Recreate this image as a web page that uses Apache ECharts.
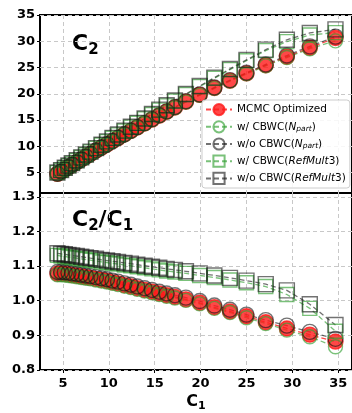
<!DOCTYPE html>
<html>
<head>
<meta charset="utf-8">
<script src="https://cdn.jsdelivr.net/npm/echarts@6/dist/echarts.min.js"></script>
<style>
  html, body { margin: 0; padding: 0; background: #fff; }
  #chart { width: 352px; height: 413px; }
</style>
</head>
<body>
<div id="chart"></div>
<script>
// C1 (mean) per centrality bin
const c1 = [4.4, 4.8, 5.2, 5.6, 6.0, 6.5, 7.0, 7.5, 8.0, 8.6, 9.2, 9.8, 10.4, 11.0, 11.7, 12.4,
  13.1, 13.9, 14.7, 15.5, 16.3, 17.2, 18.4, 19.9, 21.5, 23.2, 25.0, 27.1, 29.4, 31.9, 34.7]

// C2 (top panel)
const c2Mcmc = [4.74, 5.17, 5.60, 6.03, 6.44, 6.97, 7.49, 8.01, 8.53, 9.14, 9.75, 10.36, 10.95, 11.55, 12.23, 12.91,
  13.57, 14.33, 15.08, 15.83, 16.56, 17.39, 18.47, 19.78, 21.09, 22.48, 23.88, 25.42, 27.05, 28.77, 30.61]
const c2NpartCbwc = [4.73, 5.16, 5.58, 6.01, 6.43, 6.95, 7.47, 7.99, 8.50, 9.12, 9.72, 10.33, 10.92, 11.52, 12.19, 12.87,
  13.53, 14.29, 15.04, 15.78, 16.51, 17.34, 18.42, 19.72, 21.03, 22.41, 23.78, 25.31, 26.90, 28.58, 30.08]
const c2NpartRaw = [4.77, 5.20, 5.63, 6.05, 6.47, 7.00, 7.53, 8.05, 8.57, 9.18, 9.80, 10.41, 11.00, 11.61, 12.29, 12.97,
  13.64, 14.40, 15.16, 15.90, 16.64, 17.48, 18.57, 19.88, 21.20, 22.60, 24.00, 25.58, 27.28, 29.03, 30.88]
const c2RefCbwc = [4.98, 5.42, 5.87, 6.31, 6.75, 7.30, 7.85, 8.39, 8.94, 9.59, 10.23, 10.88, 11.52, 12.17, 12.91, 13.65,
  14.38, 15.22, 16.05, 16.88, 17.70, 18.63, 19.85, 21.35, 22.94, 24.59, 26.30, 28.21, 29.93, 31.20, 31.65]
const c2RefRaw = [5.00, 5.45, 5.90, 6.34, 6.79, 7.34, 7.89, 8.44, 8.98, 9.64, 10.29, 10.94, 11.59, 12.23, 12.98, 13.73,
  14.46, 15.30, 16.14, 16.97, 17.80, 18.73, 19.96, 21.47, 23.07, 24.73, 26.45, 28.40, 30.28, 31.58, 32.27]

// C2/C1 (bottom panel)
const rMcmc = [1.078, 1.078, 1.077, 1.076, 1.074, 1.072, 1.070, 1.068, 1.066, 1.063, 1.060, 1.057, 1.053, 1.050, 1.045, 1.041,
  1.036, 1.031, 1.026, 1.021, 1.016, 1.011, 1.004, 0.994, 0.981, 0.969, 0.955, 0.938, 0.920, 0.902, 0.882]
const rNpartCbwc = [1.075, 1.075, 1.074, 1.073, 1.071, 1.069, 1.067, 1.065, 1.063, 1.060, 1.057, 1.054, 1.050, 1.047, 1.042, 1.038,
  1.033, 1.028, 1.023, 1.018, 1.013, 1.008, 1.001, 0.991, 0.978, 0.966, 0.951, 0.934, 0.915, 0.896, 0.867]
const rNpartRaw = [1.083, 1.083, 1.082, 1.081, 1.079, 1.077, 1.075, 1.073, 1.071, 1.068, 1.065, 1.062, 1.058, 1.055, 1.050, 1.046,
  1.041, 1.036, 1.031, 1.026, 1.021, 1.016, 1.009, 0.999, 0.986, 0.974, 0.960, 0.944, 0.928, 0.910, 0.890]
const rRefCbwc = [1.131, 1.129, 1.128, 1.126, 1.125, 1.123, 1.121, 1.119, 1.117, 1.115, 1.112, 1.110, 1.108, 1.106, 1.103, 1.101,
  1.098, 1.095, 1.092, 1.089, 1.086, 1.083, 1.079, 1.073, 1.067, 1.060, 1.052, 1.041, 1.018, 0.978, 0.912]
const rRefRaw = [1.137, 1.135, 1.134, 1.132, 1.131, 1.129, 1.127, 1.125, 1.123, 1.121, 1.118, 1.116, 1.114, 1.112, 1.109, 1.107,
  1.104, 1.101, 1.098, 1.095, 1.092, 1.089, 1.085, 1.079, 1.073, 1.066, 1.058, 1.048, 1.030, 0.990, 0.930]

// tick labels
const c1Ticks = [5, 10, 15, 20, 25, 30, 35]
const c2Ticks = [5, 10, 15, 20, 25, 30, 35]
const ratioTicks = [0.8, 0.9, 1.0, 1.1, 1.2, 1.3]

const FONT = 'DejaVu Sans'
const RED = 'rgba(255,25,25,0.8)'
const GREEN = 'rgba(50,160,50,0.65)'
const BLACK = 'rgba(20,20,20,0.6)'

const names = ['MCMC Optimized', 'w/ CBWC(Npart)', 'w/o CBWC(Npart)', 'w/ CBWC(RefMult3)', 'w/o CBWC(RefMult3)']
const legendText = {
  'MCMC Optimized': 'MCMC Optimized',
  'w/ CBWC(Npart)': 'w/ CBWC({it|N}{sub|part})',
  'w/o CBWC(Npart)': 'w/o CBWC({it|N}{sub|part})',
  'w/ CBWC(RefMult3)': 'w/ CBWC({it|RefMult}3)',
  'w/o CBWC(RefMult3)': 'w/o CBWC({it|RefMult}3)'
}

const styles = [
  { symbol: 'circle', size: 15, fill: RED, stroke: RED, line: RED },
  { symbol: 'circle', size: 14, fill: 'rgba(0,0,0,0)', stroke: GREEN, line: GREEN },
  { symbol: 'circle', size: 15, fill: 'rgba(0,0,0,0)', stroke: BLACK, line: BLACK },
  { symbol: 'rect', size: 14, fill: 'rgba(0,0,0,0)', stroke: GREEN, line: GREEN },
  { symbol: 'rect', size: 15, fill: 'rgba(0,0,0,0)', stroke: BLACK, line: BLACK }
]
const topData = [c2Mcmc, c2NpartCbwc, c2NpartRaw, c2RefCbwc, c2RefRaw]
const botData = [rMcmc, rNpartCbwc, rNpartRaw, rRefCbwc, rRefRaw]

function pairs(ys) {
  return c1.map((x, i) => [x, ys[i]])
}

function mkSeries(i, panel) {
  const s = styles[i]
  return {
    name: names[i],
    type: 'line',
    xAxisIndex: panel,
    yAxisIndex: panel,
    data: pairs(panel === 0 ? topData[i] : botData[i]),
    symbol: s.symbol,
    symbolSize: s.size,
    showAllSymbol: true,
    animation: false,
    lineStyle: { color: s.line, width: 1.3, type: [5, 3] },
    itemStyle: { color: s.fill, borderColor: s.stroke, borderWidth: 1.4 },
    emphasis: { disabled: true }
  }
}

const series = []
for (let i = 0; i < 5; i++) {
  series.push(mkSeries(i, 0))
  series.push(mkSeries(i, 1))
}

const splitLine = { show: true, lineStyle: { color: '#c8c8c8', type: [4, 3], width: 1 } }
const tickLabel = { fontFamily: FONT, fontWeight: 'bold', fontSize: 13, color: '#000' }

function xAxis(idx, showLabels) {
  return {
    type: 'value',
    gridIndex: idx,
    min: 2.5,
    max: 36.5,
    axisLine: { show: false },
    axisTick: { show: showLabels, length: 3, customValues: c1Ticks, lineStyle: { color: '#000' } },
    axisLabel: Object.assign({ show: showLabels, margin: 7, customValues: c1Ticks }, tickLabel),
    splitLine: splitLine,
    name: showLabels ? '{b|C}{s|1}' : '',
    nameLocation: 'middle',
    nameGap: 22,
    nameTextStyle: {
      rich: {
        b: { fontFamily: FONT, fontWeight: 'bold', fontSize: 16, color: '#000' },
        s: { fontFamily: FONT, fontWeight: 'bold', fontSize: 11, color: '#000', padding: [9, 0, 0, 0] }
      }
    }
  }
}

const chart = echarts.init(document.getElementById('chart'))
chart.setOption({
  animation: false,
  grid: [
    { left: 40, top: 15, width: 317, height: 178, show: true, borderColor: '#000', borderWidth: 2, backgroundColor: 'transparent' },
    { left: 40, top: 193, width: 317, height: 179, show: true, borderColor: '#000', borderWidth: 2, backgroundColor: 'transparent' }
  ],
  xAxis: [xAxis(0, false), xAxis(1, true)],
  yAxis: [
    {
      type: 'value', gridIndex: 0, min: 1.1, max: 35,
      axisLine: { show: false },
      axisTick: { show: true, length: 3, customValues: c2Ticks, lineStyle: { color: '#000' } },
      axisLabel: Object.assign({ margin: 5, customValues: c2Ticks }, tickLabel),
      splitLine: splitLine
    },
    {
      type: 'value', gridIndex: 1, min: 0.8, max: 1.311,
      axisLine: { show: false },
      axisTick: { show: true, length: 3, customValues: ratioTicks, lineStyle: { color: '#000' } },
      axisLabel: Object.assign({ margin: 5, customValues: ratioTicks, formatter: v => v.toFixed(1) }, tickLabel),
      splitLine: splitLine
    }
  ],
  legend: {
    data: names,
    orient: 'vertical',
    left: 202,
    top: 100,
    itemWidth: 26,
    itemHeight: 14,
    itemGap: 4,
    padding: [3, 4, 3, 3],
    backgroundColor: 'rgba(255,255,255,0.85)',
    borderColor: '#cccccc',
    borderWidth: 1,
    borderRadius: 3,
    selectedMode: false,
    formatter: name => legendText[name],
    textStyle: {
      fontFamily: FONT,
      fontSize: 10.5,
      color: '#000',
      rich: {
        it: { fontFamily: FONT, fontSize: 10.5, fontStyle: 'italic', color: '#000' },
        sub: { fontFamily: FONT, fontSize: 7.5, fontStyle: 'italic', color: '#000', padding: [5, 0, 0, 0] }
      }
    }
  },
  graphic: [
    {
      type: 'text', left: 72, top: 33, silent: true,
      style: {
        text: '{b|C}{s|2}',
        rich: {
          b: { fontFamily: FONT, fontWeight: 'bold', fontSize: 22, fill: '#000' },
          s: { fontFamily: FONT, fontWeight: 'bold', fontSize: 15, fill: '#000', padding: [12, 0, 0, 0] }
        }
      }
    },
    {
      type: 'text', left: 72, top: 209, silent: true,
      style: {
        text: '{b|C}{s|2}{b|/C}{s|1}',
        rich: {
          b: { fontFamily: FONT, fontWeight: 'bold', fontSize: 22, fill: '#000' },
          s: { fontFamily: FONT, fontWeight: 'bold', fontSize: 15, fill: '#000', padding: [12, 0, 0, 0] }
        }
      }
    }
  ],
  series: series
})
</script>
</body>
</html>
